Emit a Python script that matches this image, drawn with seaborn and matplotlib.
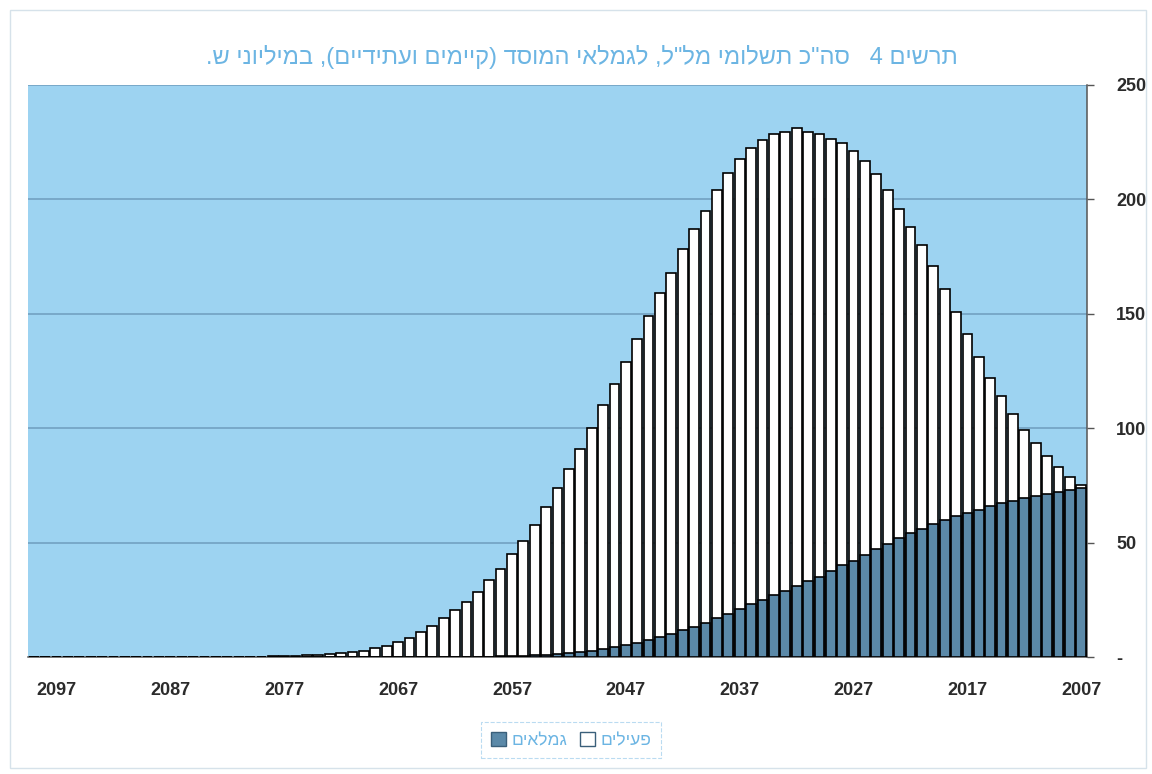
import matplotlib
matplotlib.use("Agg")
import numpy as np
import pandas as pd
import matplotlib.pyplot as plt
import seaborn as sns
from matplotlib.patches import Patch, Rectangle

# ---- data (millions of NIS per year) ----
years = list(range(2007, 2100))

pensioners = [
    74, 73, 72.2, 71.4, 70.5, 69.6, 68.4, 67.2, 65.8, 64.4,          # 2007-2016
    63, 61.5, 59.8, 58, 56, 54, 51.8, 49.6, 47, 44.5,                # 2017-2026
    42, 40, 37.5, 35, 33, 31, 29, 27, 25, 23,                        # 2027-2036
    21, 19, 17, 15, 13.2, 11.6, 10, 8.6, 7.3, 6.2,                   # 2037-2046
    5.2, 4.3, 3.5, 2.8, 2.2, 1.7, 1.3, 1.0, 0.7, 0.5,                # 2047-2056
    0.35, 0.25, 0.15, 0.1, 0, 0, 0, 0, 0, 0,                         # 2057-2066
    0, 0, 0, 0, 0, 0, 0, 0, 0, 0,                                    # 2067-2076
    0, 0, 0, 0, 0, 0, 0, 0, 0, 0,                                    # 2077-2086
    0, 0, 0, 0, 0, 0, 0, 0, 0, 0,                                    # 2087-2096
    0, 0, 0,                                                         # 2097-2099
]

actives = [
    1, 5.5, 10.8, 16.6, 23, 29.4, 37.6, 46.8, 56.2, 66.6,            # 2007-2016
    78, 89.5, 101.2, 113, 124, 134, 144.2, 154.4, 164, 172.5,        # 2017-2026
    179, 184.5, 189, 193.5, 196.5, 200, 200.5, 201.5, 201, 199.5,    # 2027-2036
    196.5, 192.5, 187, 180, 173.8, 166.9, 158, 150.4, 141.7, 132.8,  # 2037-2046
    123.8, 115.2, 106.5, 97.2, 88.8, 80.3, 72.7, 64.5, 56.8, 50,     # 2047-2056
    44.6, 38.2, 33.3, 28.4, 24, 20.5, 17, 13.5, 11, 8.5,             # 2057-2066
    6.7, 4.8, 3.8, 2.8, 2.0, 1.6, 1.3, 0.9, 0.7, 0.5,                # 2067-2076
    0.35, 0.25, 0.2, 0.15, 0.1, 0.1, 0.05, 0.05, 0.05, 0,            # 2077-2086
    0, 0, 0, 0, 0, 0, 0, 0, 0, 0,                                    # 2087-2096
    0, 0, 0,                                                         # 2097-2099
]

label_years = [2097, 2087, 2077, 2067, 2057, 2047, 2037, 2027, 2017, 2007]
y_ticks = [0, 50, 100, 150, 200, 250]
y_tick_labels = ["-", "50", "100", "150", "200", "250"]

title_text = 'תרשים 4   סה"כ תשלומי מל"ל, לגמלאי המוסד (קיימים ועתידיים), במיליוני ש.'
label_pensioners = "גמלאים"
label_actives = "פעילים"


def visual(s):
    """Hebrew text in display order (right-to-left), brackets mirrored."""
    return s[::-1].translate(str.maketrans("()", ")("))


# ---- style ----
sns.set_style("white")
plt.rcParams["font.family"] = ["Liberation Sans", "DejaVu Sans"]

PLOT_BG = "#9dd3f1"
DARK = "#5b89a8"
GRID = "#6f9dbd"
AXIS = "#555555"
TEXT = "#2b2b2b"
TITLE = "#6cb5e3"

W, H = 1152, 774
fig = plt.figure(figsize=(W / 100, H / 100), dpi=100)
fig.patch.set_facecolor("white")
left, right, top, bottom = 28, 1087, 85, 657
ax = fig.add_axes([left / W, 1 - bottom / H, (right - left) / W, (bottom - top) / H])
ax.set_facecolor(PLOT_BG)

df = pd.DataFrame({
    "year": [str(y) for y in years],
    "pensioners": pensioners,
    "actives": actives,
})
df["stack_top"] = df["pensioners"] + df["actives"]
order = [str(y) for y in years][::-1]   # latest year on the left

bar_kw = dict(order=order, edgecolor="black", linewidth=1.2, width=0.86,
              saturation=1, ax=ax, zorder=3)
sns.barplot(data=df, x="year", y="stack_top", color="white", **bar_kw)
sns.barplot(data=df, x="year", y="pensioners", color=DARK, **bar_kw)

# ---- axes ----
ax.set_xlim(-0.5, len(order) - 0.5)
ax.set_ylim(0, 250)
ax.set_xlabel("")
ax.set_ylabel("")

ax.set_axisbelow(True)
ax.yaxis.grid(True, color=GRID, linewidth=1.1)
ax.xaxis.grid(False)

pos = [order.index(str(y)) for y in label_years]
ax.set_xticks(pos)
ax.set_xticklabels([str(y) for y in label_years], fontsize=13,
                   fontweight="bold", color=TEXT)
ax.set_xticks(np.arange(-0.5, len(order), 1), minor=True)
ax.tick_params(axis="x", which="major", length=0, pad=18)
ax.tick_params(axis="x", which="minor", length=5, width=1, color=AXIS,
               direction="out")

ax.yaxis.tick_right()
ax.set_yticks(y_ticks)
ax.set_yticklabels(y_tick_labels, fontsize=13, fontweight="bold", color=TEXT)
ax.tick_params(axis="y", which="major", length=5, width=1, color=AXIS,
               direction="out", pad=16)

for side in ("left", "top"):
    ax.spines[side].set_visible(False)
for side in ("right", "bottom"):
    ax.spines[side].set_visible(True)
    ax.spines[side].set_color(AXIS)
    ax.spines[side].set_linewidth(1.1)

# ---- title, legend, frame ----
fig.text(582 / W, 1 - 57 / H, visual(title_text), ha="center", va="center",
         color=TITLE, fontsize=17)

handles = [
    Patch(facecolor=DARK, edgecolor="#3a5f7a", label=visual(label_pensioners)),
    Patch(facecolor="white", edgecolor="#3a5f7a", label=visual(label_actives)),
]
leg = fig.legend(handles=handles, loc="center",
                 bbox_to_anchor=(571 / W, 1 - 740 / H), ncol=2,
                 fontsize=12.5, labelcolor=TITLE, frameon=True, fancybox=False,
                 edgecolor="#a9d2ee", handlelength=0.9, handleheight=0.9,
                 handletextpad=0.3, columnspacing=0.7, borderpad=0.55)
leg.get_frame().set_linewidth(0.8)
leg.get_frame().set_linestyle("--")

fig.add_artist(Rectangle((10 / W, 1 - 768 / H), (1146 - 10) / W, (768 - 10) / H,
                         transform=fig.transFigure, fill=False,
                         edgecolor="#d6e2ea", linewidth=1))

fig.savefig("out.png", dpi=100, facecolor="white")
